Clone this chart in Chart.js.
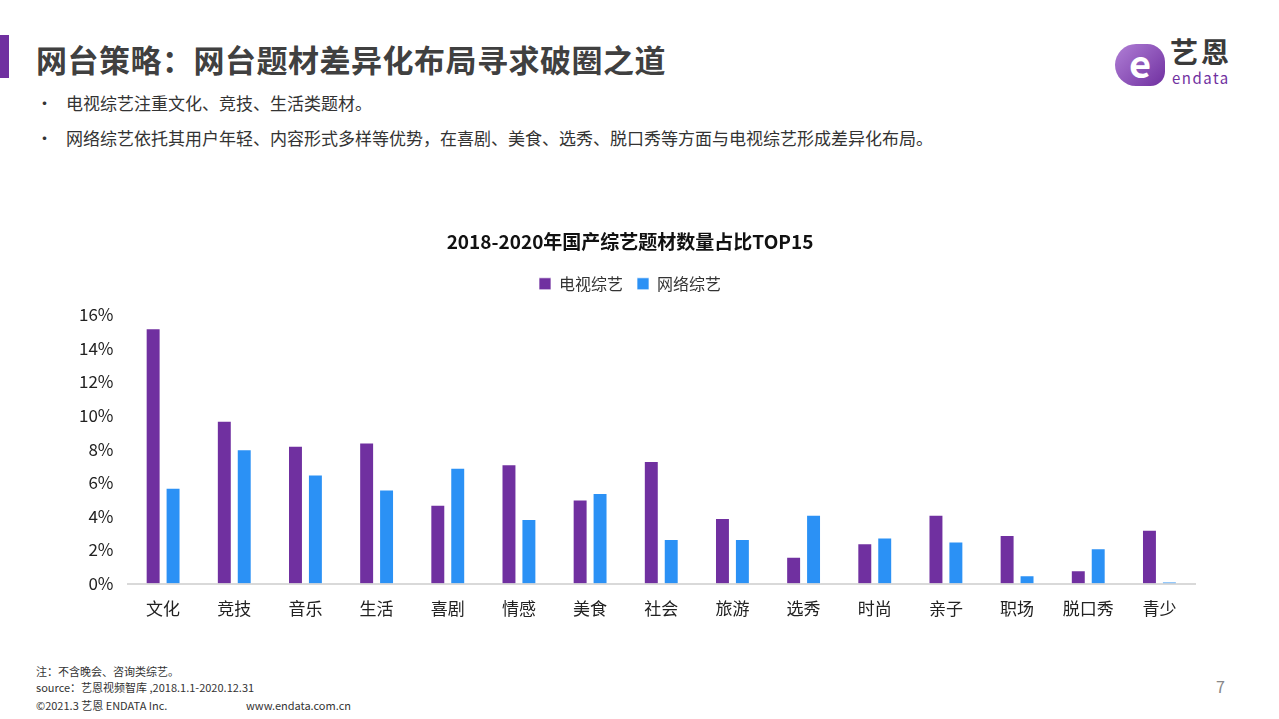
<!DOCTYPE html>
<html>
<head>
<meta charset="utf-8">
<script src="https://cdn.jsdelivr.net/npm/chart.js@4.4.0/dist/chart.umd.min.js"></script>
<style>
  body { margin: 0; width: 1279px; height: 719px; background: #fff; position: relative; overflow: hidden;
         font-family: "Noto Sans CJK SC", "Noto Sans", sans-serif; color: #333; }
  .abs { position: absolute; white-space: nowrap; }
  #bar { left: 0; top: 35px; width: 9px; height: 43px; background: #7030a0; }
  #title { left: 36px; top: 36px; font-size: 31px; font-weight: bold; color: #404040; letter-spacing: 0.5px; }
  .bullet { left: 36px; font-size: 17px; color: #333; }
  .bullet span { position: absolute; left: 30px; }
  #chartBox { left: 60px; top: 226px; width: 1160px; height: 408px; }
  .foot { left: 36px; font-size: 11px; color: #333; }
  #page { left: 1216px; top: 674px; font-size: 16px; color: #888; }
  #logoE { left: 1115px; top: 44px; width: 50px; height: 42px; background: linear-gradient(135deg, #b07fd6, #7030a0);
           border-radius: 26px 22px 18px 26px; color: #fff; font-size: 38px; font-weight: bold; line-height: 36px; text-align: center; }
  #logoCn { left: 1170px; top: 34px; font-size: 28px; line-height: 34px; color: #3a3a3a; font-weight: bold; letter-spacing: 3px; }
  #logoEn { left: 1172px; top: 69px; font-size: 15px; line-height: 18px; color: #7030a0; letter-spacing: 1.5px; }
</style>
</head>
<body>
<div class="abs" id="bar"></div>
<div class="abs" id="title">网台策略：网台题材差异化布局寻求破圈之道</div>
<div class="abs bullet" style="top:90px">•<span>电视综艺注重文化、竞技、生活类题材。</span></div>
<div class="abs bullet" style="top:125px">•<span>网络综艺依托其用户年轻、内容形式多样等优势，在喜剧、美食、选秀、脱口秀等方面与电视综艺形成差异化布局。</span></div>

<div class="abs" id="logoE">e</div>
<div class="abs" id="logoCn">艺恩</div>
<div class="abs" id="logoEn">endata</div>

<div class="abs" id="chartBox"><canvas id="c"></canvas></div>

<div class="abs foot" style="top:663px">注：不含晚会、咨询类综艺。</div>
<div class="abs foot" style="top:679px">source：艺恩视频智库 ,2018.1.1-2020.12.31</div>
<div class="abs foot" style="top:697px">©2021.3 艺恩 ENDATA Inc.</div>
<div class="abs foot" style="top:697px;left:246px">www.endata.com.cn</div>
<div class="abs" id="page">7</div>

<script>
const categories = ["文化", "竞技", "音乐", "生活", "喜剧", "情感", "美食", "社会", "旅游", "选秀", "时尚", "亲子", "职场", "脱口秀", "青少"];
const tvShare = [15.2, 9.7, 8.2, 8.4, 4.7, 7.1, 5.0, 7.3, 3.9, 1.6, 2.4, 4.1, 2.9, 0.8, 3.2];
const webShare = [5.7, 8.0, 6.5, 5.6, 6.9, 3.85, 5.4, 2.65, 2.65, 4.1, 2.75, 2.5, 0.5, 2.1, 0.12];
const yTicks = [0, 2, 4, 6, 8, 10, 12, 14, 16];

const font = "'Noto Sans CJK SC', 'Noto Sans', sans-serif";

// extra room under the legend
const legendGap = {
  id: "legendGap",
  beforeInit(chart) {
    const fit = chart.legend.fit;
    chart.legend.fit = function () {
      fit.call(this);
      this.height += 13;
    };
  },
};

new Chart(document.getElementById("c"), {
  type: "bar",
  data: {
    labels: categories,
    datasets: [
      { label: "电视综艺", data: tvShare, backgroundColor: "#7030a0", borderColor: "rgba(255,255,255,0.7)", borderWidth: 1,
        categoryPercentage: 0.56, barPercentage: 0.75 },
      { label: "网络综艺", data: webShare, backgroundColor: "#2b91f5", borderColor: "rgba(255,255,255,0.7)", borderWidth: 1,
        categoryPercentage: 0.56, barPercentage: 0.75 },
    ],
  },
  options: {
    responsive: true,
    maintainAspectRatio: false,
    animation: false,
    layout: { padding: { left: 5, right: 25, top: 0, bottom: 0 } },
    plugins: {
      title: { display: true, text: "2018-2020年国产综艺题材数量占比TOP15", color: "#111",
               font: { family: font, size: 19, weight: "bold" }, padding: { top: 4, bottom: 9 } },
      legend: { display: true, position: "top",
                labels: { color: "#333", font: { family: font, size: 16 }, boxWidth: 12, boxHeight: 12, padding: 14 } },
      tooltip: { enabled: false },
    },
    scales: {
      x: {
        grid: { display: false, drawTicks: false },
        border: { color: "#d9d9d9", width: 2 },
        ticks: { color: "#222", font: { family: font, size: 17 }, padding: 15 },
      },
      y: {
        min: 0, max: 16,
        afterBuildTicks: (axis) => { axis.ticks = yTicks.map((v) => ({ value: v })); },
        grid: { display: false, drawTicks: false },
        border: { display: false },
        ticks: { color: "#222", font: { family: font, size: 17 }, padding: 14, callback: (v) => v + "%" },
      },
    },
  },
  plugins: [legendGap],
});
</script>
</body>
</html>
